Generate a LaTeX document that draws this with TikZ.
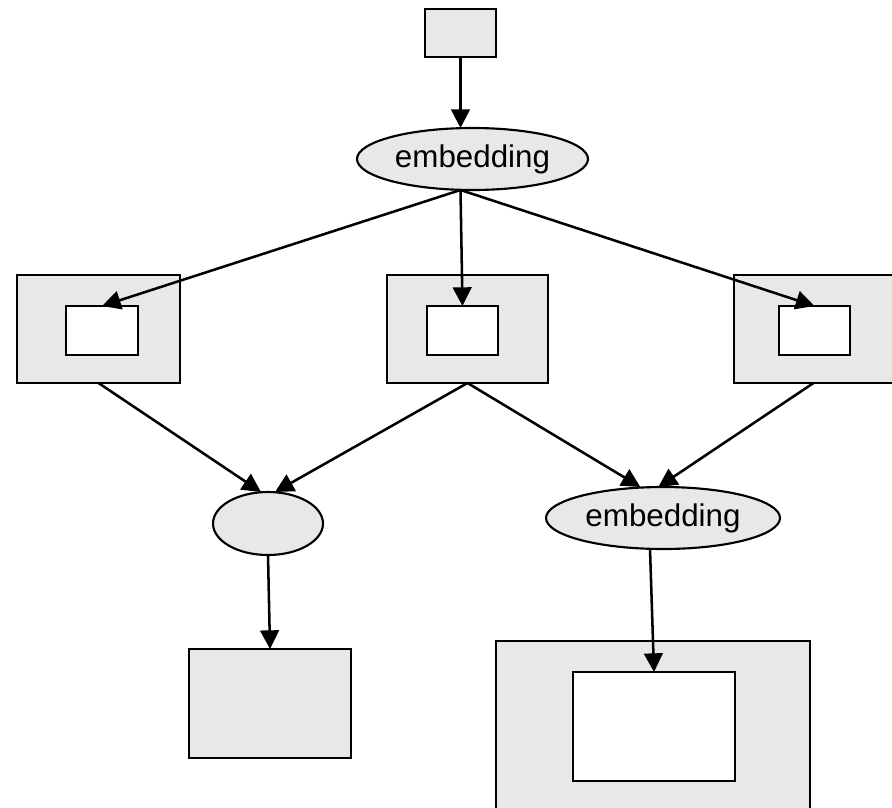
\documentclass[tikz,border=0pt]{standalone}
\usepackage{fontspec}
\setmainfont{Liberation Sans}
\usepackage{tikz}
\usetikzlibrary{
  arrows.meta,
  calc,
  positioning,
  shapes.geometric
}
\definecolor{boxgray}{RGB}{232,232,232}
\definecolor{inkblack}{RGB}{0,0,0}
\tikzset{
  sz/.style 2 args={minimum width=#1*0.75pt,minimum height=#2*0.75pt},
  outerbox/.style={draw=inkblack,line width=1.6pt,fill=boxgray,
    rectangle,inner sep=0pt,outer sep=0pt},
  innerbox/.style={draw=inkblack,line width=1.6pt,fill=white,
    rectangle,inner sep=0pt,outer sep=0pt},
  oval/.style={draw=inkblack,line width=1.6pt,fill=boxgray,ellipse,
    inner sep=0pt,outer sep=0pt,font=\fontsize{23.5}{28}\selectfont},
  flow/.style={-{Triangle[length=14pt,width=14pt]},line width=1.9pt,draw=inkblack}
}

\begin{document}
\begin{tikzpicture}[x=0.75pt,y=-0.75pt]
  \useasboundingbox (0,0) rectangle (892,807);
  \clip (0,0) rectangle (892,807);

  % top
  \node[outerbox,sz={71}{48}] (source) at (460.5,33) {};
  \node[oval,sz={231}{62}] (embtop) at (472.5,159) {embedding};

  % middle row
  \node[outerbox,sz={163}{108}] (leftout) at (98.5,329) {};
  \node[innerbox,sz={72}{49}] (leftin) at (102,330.5) {};
  \node[outerbox,sz={161}{108}] (midout) at (467.5,329) {};
  \node[innerbox,sz={71}{49}] (midin) at (462.5,330.5) {};
  \node[outerbox,sz={159}{108}] (rightout) at (813.5,329) {};
  \node[innerbox,sz={71}{49}] (rightin) at (814.5,330.5) {};

  % lower row
  \node[oval,sz={110}{63}] (merge) at (268,523.5) {};
  \node[oval,sz={234}{62}] (embbot) at (663,518) {embedding};

  \node[outerbox,sz={162}{109}] (result) at (270,703.5) {};
  \node[outerbox,sz={314}{171}] (bigout) at (653,726.5) {};
  \node[innerbox,sz={162}{109}] (bigin) at (654,726.5) {};

  \draw[flow] (source) -- (source.south |- embtop.north);
  \foreach \x in {leftin,midin,rightin}
    \draw[flow] (source.south |- embtop.south) -- (\x.north);

  \draw[flow] (leftout.south) -- ([xshift=-5.25pt]merge.north);
  \draw[flow] (midout.south) -- ([xshift=5.25pt]merge.north);
  \draw[flow] (midout.south) -- ([xshift=-17pt]embbot.north);
  \draw[flow] (rightout.south) -- ([xshift=-3.5pt]embbot.north);

  \draw[flow] (merge.south) -- (result.north);
  \draw[flow] ([xshift=-9.75pt]embbot.south) -- (bigin.north);
\end{tikzpicture}
\end{document}
